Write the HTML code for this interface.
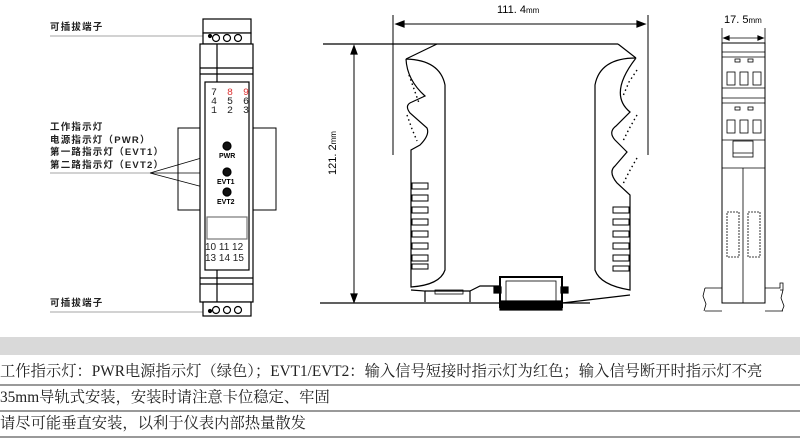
<!DOCTYPE html>
<html><head><meta charset="utf-8"><style>
body{margin:0;background:#fff;width:800px;height:444px;overflow:hidden;position:relative;font-family:"Liberation Sans","Noto Sans CJK SC",sans-serif}
.t{position:absolute;font-size:9.5px;font-weight:bold;color:#222;letter-spacing:1.2px;line-height:12px}
.band{position:absolute;left:0;width:800px;top:337px;height:18px;background:#d9d9d9}
.row{position:absolute;left:0;width:800px;font-family:"Liberation Serif","Noto Serif CJK SC",serif;font-size:15.3px;color:#222;border-bottom:2px solid #999;height:24px;line-height:24px;white-space:nowrap}
</style></head><body>
<svg width="800" height="335" style="position:absolute;left:0;top:0" fill="none" stroke="#000" stroke-width="1.2">
<line x1="50" y1="36" x2="212" y2="36" stroke="#888" stroke-width="0.8"/>
<line x1="50" y1="312" x2="212" y2="312" stroke="#888" stroke-width="0.8"/>
<line x1="50" y1="173" x2="150" y2="173" stroke="#888" stroke-width="0.8"/>
<line x1="150" y1="173" x2="222" y2="152" stroke-width="0.7"/>
<line x1="150" y1="173" x2="222" y2="173" stroke-width="0.7"/>
<line x1="150" y1="173" x2="222" y2="192" stroke-width="0.7"/>
<rect x="178" y="128" width="98" height="82" stroke-width="1"/>
<rect x="203" y="19" width="48" height="14" fill="#fff"/>
<rect x="203" y="33" width="48" height="11" fill="#fff"/>
<circle cx="216" cy="38" r="3.5"/><circle cx="227" cy="38" r="3.5"/><circle cx="238" cy="38" r="3.5"/>
<circle cx="210" cy="36" r="1.5" fill="#000"/>
<rect x="200" y="44" width="53" height="258" fill="#fff"/>
<line x1="200" y1="68" x2="253" y2="68"/><line x1="200" y1="74" x2="253" y2="74"/>
<line x1="200" y1="278" x2="253" y2="278"/><line x1="200" y1="284" x2="253" y2="284"/>
<rect x="205" y="82" width="44" height="188"/>
<rect x="207" y="217" width="40" height="22" stroke="#777"/>
<line x1="217" y1="44" x2="217" y2="82"/><line x1="217" y1="270" x2="217" y2="305"/>
<rect x="203" y="302" width="48" height="14" fill="#fff"/>
<circle cx="216" cy="310" r="3.5"/><circle cx="227" cy="310" r="3.5"/><circle cx="238" cy="310" r="3.5"/>
<circle cx="210" cy="311" r="1.5" fill="#000"/>
<circle cx="227" cy="146" r="4" fill="#111"/><circle cx="227" cy="172" r="4" fill="#111"/><circle cx="227" cy="192" r="4" fill="#111"/>
<line x1="393" y1="15" x2="393" y2="155" stroke-width="1"/><line x1="648" y1="15" x2="648" y2="155" stroke-width="1"/>
<line x1="396" y1="24" x2="645" y2="24" stroke-width="1"/>
<path d="M396 24l8-3v6zM645 24l-8-3v6z" fill="#000"/>
<line x1="323" y1="44" x2="618" y2="44"/><line x1="618" y1="44" x2="636" y2="58"/>
<line x1="354" y1="46" x2="354" y2="302" stroke-width="1"/>
<path d="M354 46l-3 8h6zM354 302l-3-8h6z" fill="#000"/>
<line x1="320" y1="303" x2="590" y2="303"/>
<path d="M437 44L406 59Q440 60 445 85V270Q440 285 411 287V150L420 145Q430 135 427 128L410 113Q404 105 412 102L425 96Q407 80 406 59"/>
<path d="M636 58Q600 58 595 85V270Q600 285 630 290V195L617 183Q608 172 615 166L627 152L615 140Q608 132 616 126L630 112Q608 94 636 58"/>
<path d="M409 75l5 14 5 14M407 115l5 14 5 12M637 70l-8 12-6 14M637 115l-8 14-6 12M637 158l-8 14-6 12" stroke-dasharray="1.5 3" stroke-width="1.4"/>
<g stroke-width="1">
<rect x="412" y="183" width="16" height="6"/><rect x="412" y="195" width="16" height="6"/><rect x="412" y="207" width="16" height="6"/><rect x="412" y="219" width="16" height="6"/><rect x="412" y="231" width="16" height="6"/><rect x="412" y="243" width="16" height="6"/><rect x="412" y="255" width="16" height="6"/><rect x="412" y="264" width="16" height="5"/>
<rect x="613" y="207" width="16" height="6"/><rect x="613" y="219" width="16" height="6"/><rect x="613" y="231" width="16" height="6"/><rect x="613" y="243" width="16" height="6"/><rect x="613" y="255" width="16" height="6"/><rect x="613" y="266" width="16" height="5"/>
</g>
<path d="M411 290L425 291V302M425 291H470V302M470 291L480 286H500"/>
<rect x="435" y="290" width="28" height="4" stroke-width="0.8"/>
<rect x="500" y="277" width="62" height="30" fill="#fff" stroke-width="2"/>
<rect x="506" y="281" width="50" height="20" stroke-width="0.8"/>
<rect x="500" y="301" width="62" height="9" fill="#000"/>
<rect x="494" y="287" width="7" height="6" fill="#000"/><rect x="561" y="287" width="7" height="6" fill="#000"/>
<path d="M562 303L630 295" />
<line x1="722" y1="28" x2="722" y2="45" stroke-width="0.8"/><line x1="765" y1="28" x2="765" y2="45" stroke-width="0.8"/>
<line x1="724" y1="38" x2="763" y2="38" stroke-width="0.8"/>
<path d="M724 38l5-2v4zM763 38l-5-2v4z" fill="#000"/>
<rect x="722" y="43" width="43" height="260" stroke-width="1"/>
<g stroke-width="0.8">
<line x1="722" y1="52" x2="765" y2="52"/><line x1="722" y1="57" x2="765" y2="57"/>
<rect x="735" y="59" width="5" height="3"/><rect x="748" y="59" width="5" height="3"/>
<rect x="727" y="72" width="8" height="13"/><rect x="740" y="72" width="8" height="13"/><rect x="753" y="72" width="8" height="13"/>
<line x1="722" y1="88" x2="765" y2="88"/><line x1="722" y1="98" x2="765" y2="98"/><line x1="722" y1="103" x2="765" y2="103"/>
<rect x="735" y="107" width="5" height="3"/><rect x="748" y="107" width="5" height="3"/>
<rect x="727" y="120" width="8" height="13"/><rect x="740" y="120" width="8" height="13"/><rect x="753" y="120" width="8" height="13"/>
<line x1="722" y1="140" x2="765" y2="140"/>
<rect x="733" y="141" width="20" height="16"/><line x1="733" y1="153" x2="753" y2="153"/>
<line x1="722" y1="168" x2="765" y2="168"/><line x1="743" y1="168" x2="743" y2="303"/>
<rect x="727" y="212" width="12" height="45" stroke-dasharray="2 1"/><rect x="748" y="212" width="12" height="45" stroke-dasharray="2 1"/>
<path d="M705 288H722M765 288H780v-5h3v7h-3M705 288l-2 8 3 8-2 7M705 311H722M783 290l-2 8 3 8-2 5M765 311H783"/>
</g>
</svg>
<div class="t" style="left:50px;top:22px">可插拔端子</div>
<div class="t" style="left:50px;top:298px">可插拔端子</div>
<div class="t" style="left:50px;top:122px;line-height:12.5px">工作指示灯<br>电源指示灯（PWR）<br>第一路指示灯（EVT1）<br>第二路指示灯（EVT2）</div>
<div style="position:absolute;left:211px;top:89px;font:10px/9px 'Liberation Mono',monospace;letter-spacing:2px;color:#222">7 <span style="color:#d33">8 9</span><br>4 5 6<br>1 2 3</div>
<div style="position:absolute;left:219px;top:153px;font:bold 7px 'Liberation Sans',sans-serif">PWR</div>
<div style="position:absolute;left:217px;top:179px;font:bold 7px 'Liberation Sans',sans-serif">EVT1</div>
<div style="position:absolute;left:217px;top:199px;font:bold 7px 'Liberation Sans',sans-serif">EVT2</div>
<div style="position:absolute;left:205px;top:242px;font:10px/11px 'Liberation Sans',sans-serif;color:#222">10 11 12<br>13 14 15</div>
<div style="position:absolute;left:497px;top:4px;font:11px 'Liberation Sans',sans-serif">111. 4<span style="font-size:8px">mm</span></div>
<div style="position:absolute;left:327px;top:175px;font:11px 'Liberation Sans',sans-serif;transform:rotate(-90deg);transform-origin:0 0;white-space:nowrap">121. 2<span style="font-size:8px">mm</span></div>
<div style="position:absolute;left:724px;top:14px;font:11px 'Liberation Sans',sans-serif">17. 5<span style="font-size:8px">mm</span></div>
<div class="band"></div>
<div class="row" style="top:360px">工作指示灯：PWR电源指示灯（绿色）；EVT1/EVT2：输入信号短接时指示灯为红色；输入信号断开时指示灯不亮</div>
<div class="row" style="top:386px">35mm导轨式安装，安装时请注意卡位稳定、牢固</div>
<div class="row" style="top:412px">请尽可能垂直安装，以利于仪表内部热量散发</div>
</body></html>
